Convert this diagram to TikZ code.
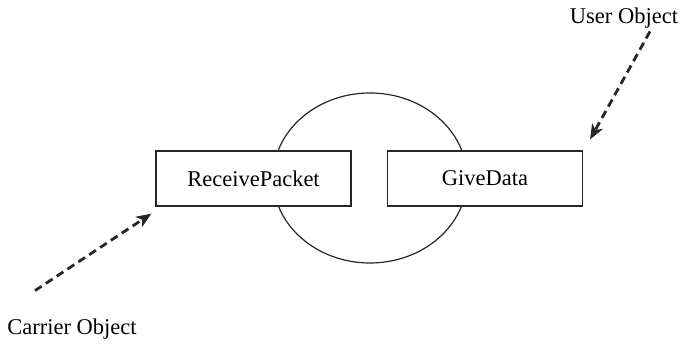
\documentclass[tikz,border=0pt]{standalone}
\usepackage{fontspec}
\setmainfont{Liberation Serif}
\usetikzlibrary{arrows.meta,calc}
\begin{document}
\begin{tikzpicture}[x=1pt,y=1pt,
  opbox/.style={draw=black!85,line width=1.2pt,fill=white,minimum width=195pt,minimum height=55pt,inner sep=0pt,font=\fontsize{22.5}{26}\selectfont},
  lbl/.style={font=\fontsize{22.5}{26}\selectfont,inner sep=0pt},
  dasharrow/.style={draw=black!85,line width=2.8pt,dash pattern=on 8pt off 5pt,-{Stealth[length=15pt,width=12pt,inset=4pt]}}]
\useasboundingbox (0,0) rectangle (684,343);
% object body
\draw[black!85,line width=1.2pt] (370,165) ellipse [x radius=97, y radius=85];
% operations
\node[opbox] (rp) at (253.5,164.5) {ReceivePacket};
\node[opbox] (gd) at (485,164.5) {GiveData};
% external objects
\node[lbl] (carrier) at (72,14) {Carrier Object};
\node[lbl] (user) at (624,325) {User Object};
\coordinate (cin) at ($(rp.south west)+(-4,-7)$);
\coordinate (uin) at ($(gd.north east)+(7,11)$);
\draw[dasharrow] ($(carrier.north)+(-37,28)$) -- (cin);
\draw[dasharrow] ($(user.south)+(26,-3)$) -- (uin);
\end{tikzpicture}
\end{document}
